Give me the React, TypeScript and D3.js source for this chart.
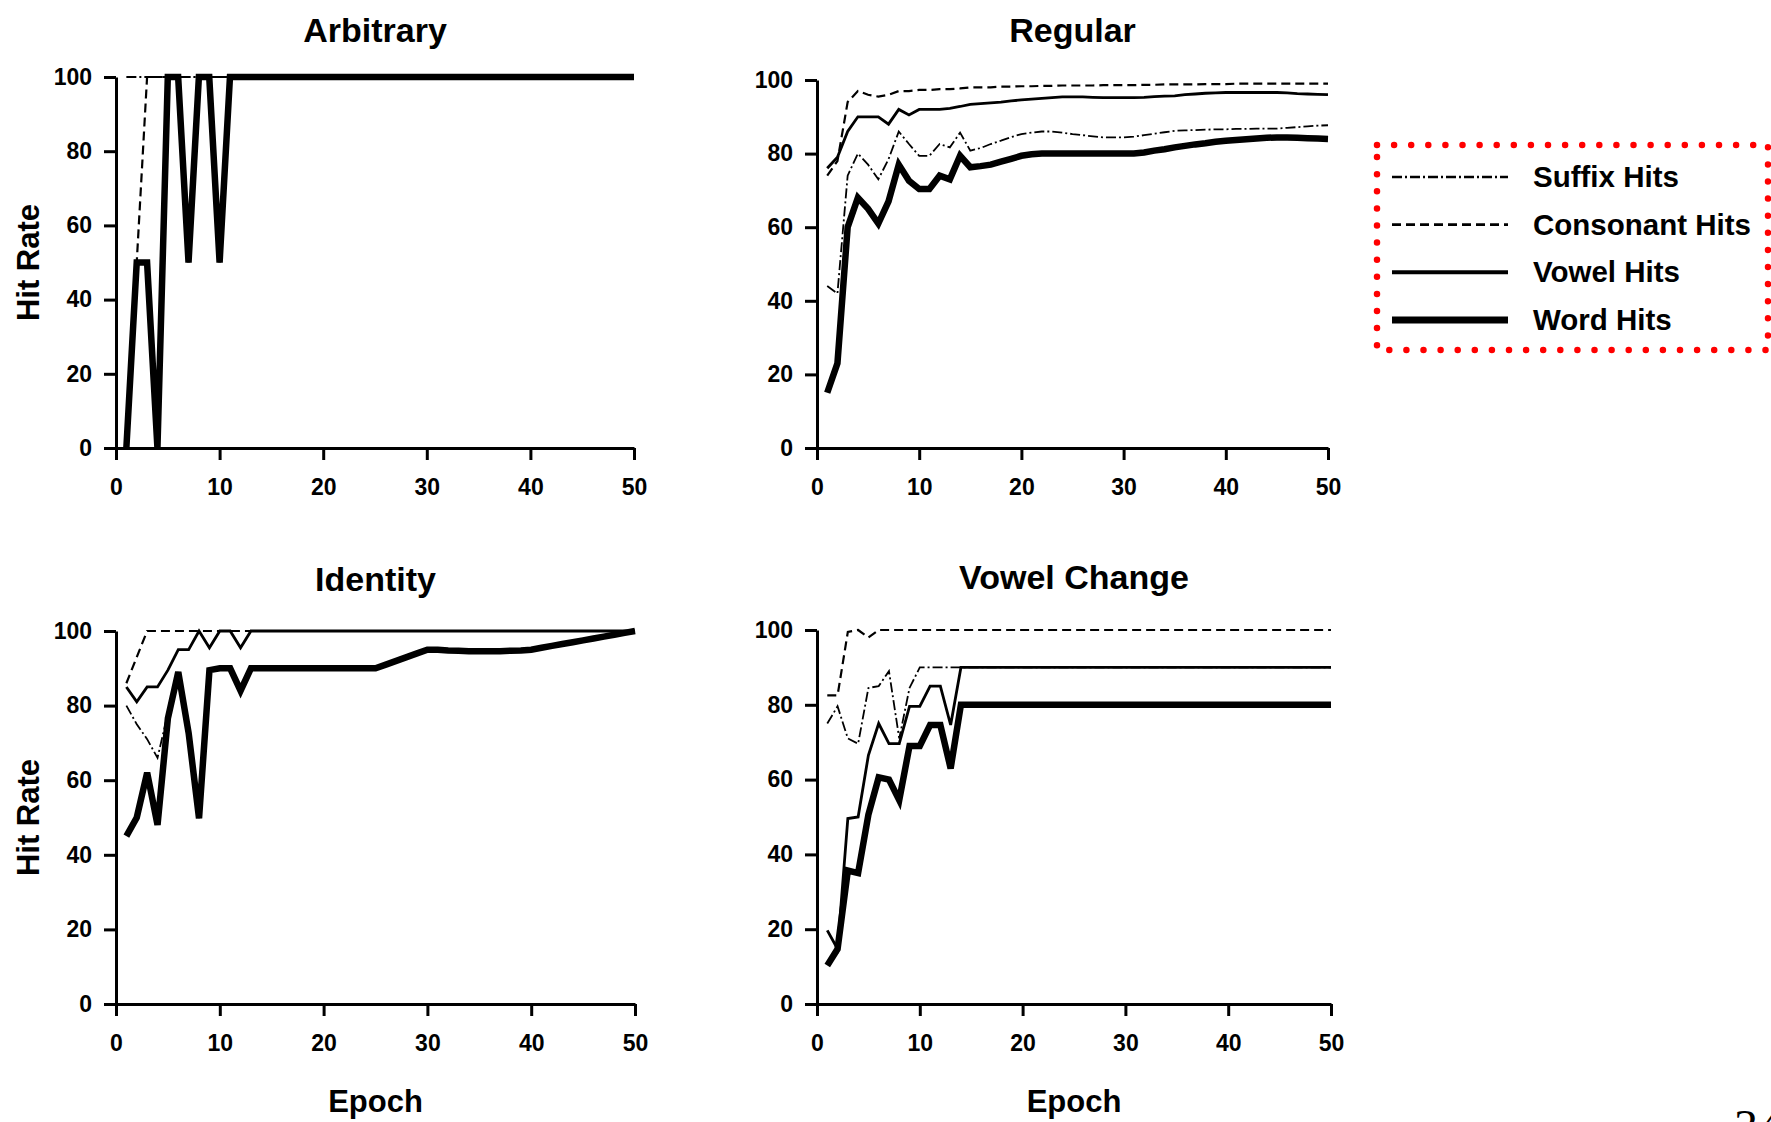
import { useEffect, useRef } from "react";
import * as d3 from "d3";

// epochs 1..50
const epochs = [
    1, 2, 3, 4, 5, 6, 7, 8, 9, 10,
    11, 12, 13, 14, 15, 16, 17, 18, 19, 20,
    21, 22, 23, 24, 25, 26, 27, 28, 29, 30,
    31, 32, 33, 34, 35, 36, 37, 38, 39, 40,
    41, 42, 43, 44, 45, 46, 47, 48, 49, 50,
];

const xTicks = [0, 10, 20, 30, 40, 50];
const yTicks = [0, 20, 40, 60, 80, 100];

const seriesNames = ["Suffix Hits", "Consonant Hits", "Vowel Hits", "Word Hits"];
const panelTitles = ["Arbitrary", "Regular", "Identity", "Vowel Change"];

// Arbitrary
const arbSuffix = [
    100, 100, 100, 100, 100, 100, 100, 100, 100, 100,
    100, 100, 100, 100, 100, 100, 100, 100, 100, 100,
    100, 100, 100, 100, 100, 100, 100, 100, 100, 100,
    100, 100, 100, 100, 100, 100, 100, 100, 100, 100,
    100, 100, 100, 100, 100, 100, 100, 100, 100, 100,
];
const arbConsonant = [
    0, 50, 100, 100, 100, 100, 100, 100, 100, 100,
    100, 100, 100, 100, 100, 100, 100, 100, 100, 100,
    100, 100, 100, 100, 100, 100, 100, 100, 100, 100,
    100, 100, 100, 100, 100, 100, 100, 100, 100, 100,
    100, 100, 100, 100, 100, 100, 100, 100, 100, 100,
];
const arbVowel = [
    0, 50, 50, 0, 100, 100, 50, 100, 100, 50,
    100, 100, 100, 100, 100, 100, 100, 100, 100, 100,
    100, 100, 100, 100, 100, 100, 100, 100, 100, 100,
    100, 100, 100, 100, 100, 100, 100, 100, 100, 100,
    100, 100, 100, 100, 100, 100, 100, 100, 100, 100,
];
const arbWord = [
    0, 50, 50, 0, 100, 100, 50, 100, 100, 50,
    100, 100, 100, 100, 100, 100, 100, 100, 100, 100,
    100, 100, 100, 100, 100, 100, 100, 100, 100, 100,
    100, 100, 100, 100, 100, 100, 100, 100, 100, 100,
    100, 100, 100, 100, 100, 100, 100, 100, 100, 100,
];

// Regular
const regSuffix = [
    44, 42, 74, 80, 77, 73, 78.5, 86, 82.6, 79.4,
    79.4, 82.6, 81.7, 85.7, 80.8, 81.5, 82.6, 83.5, 84.5, 85.3,
    85.7, 86, 86, 85.7, 85.3, 85, 84.7, 84.4, 84.4, 84.4,
    84.6, 85, 85.4, 85.8, 86.2, 86.3, 86.4, 86.5, 86.6, 86.6,
    86.7, 86.7, 86.8, 86.8, 86.8, 87, 87.2, 87.4, 87.6, 87.7,
];
const regConsonant = [
    74, 78, 94, 97, 96, 95.5, 96, 97, 97, 97.3,
    97.3, 97.5, 97.5, 97.7, 98, 98, 98, 98.2, 98.2, 98.3,
    98.3, 98.4, 98.4, 98.5, 98.5, 98.5, 98.5, 98.6, 98.6, 98.6,
    98.6, 98.7, 98.7, 98.8, 98.8, 98.8, 98.8, 98.9, 98.9, 98.9,
    99, 99, 99, 99, 99, 99, 99, 99, 99, 99,
];
const regVowel = [
    76, 79, 86, 90, 90, 90, 88, 92, 90.5, 92,
    92, 92, 92.3, 92.8, 93.4, 93.6, 93.8, 94, 94.3, 94.6,
    94.8, 95, 95.2, 95.4, 95.4, 95.4, 95.3, 95.2, 95.2, 95.2,
    95.2, 95.3, 95.5, 95.6, 95.7, 96, 96.2, 96.4, 96.5, 96.6,
    96.6, 96.6, 96.6, 96.6, 96.6, 96.5, 96.3, 96.2, 96.1, 96,
];
const regWord = [
    15, 23, 60, 68, 65, 61, 67, 77, 72.6, 70.4,
    70.4, 74, 73, 79.4, 76.3, 76.6, 77, 77.8, 78.6, 79.4,
    79.8, 80, 80, 80, 80, 80, 80, 80, 80, 80,
    80, 80.3, 80.8, 81.2, 81.7, 82.1, 82.5, 82.8, 83.2, 83.5,
    83.7, 83.9, 84.1, 84.3, 84.4, 84.4, 84.3, 84.2, 84.1, 84,
];

// Identity
const idSuffix = [
    80, 75, 71, 66, 78, 89, 72.6, 49.8, 89.5, 90,
    90, 84, 90, 90, 90, 90, 90, 90, 90, 90,
    90, 90, 90, 90, 90, 91, 92, 93, 94, 95,
    95, 94.8, 94.7, 94.6, 94.6, 94.6, 94.6, 94.7, 94.8, 95,
    95.5, 96, 96.5, 97, 97.5, 98, 98.5, 99, 99.5, 100,
];
const idConsonant = [
    86, 93, 100, 100, 100, 100, 100, 100, 100, 100,
    100, 100, 100, 100, 100, 100, 100, 100, 100, 100,
    100, 100, 100, 100, 100, 100, 100, 100, 100, 100,
    100, 100, 100, 100, 100, 100, 100, 100, 100, 100,
    100, 100, 100, 100, 100, 100, 100, 100, 100, 100,
];
const idVowel = [
    85, 81, 85, 85, 89.5, 95, 95, 100, 95.5, 100,
    100, 95.5, 100, 100, 100, 100, 100, 100, 100, 100,
    100, 100, 100, 100, 100, 100, 100, 100, 100, 100,
    100, 100, 100, 100, 100, 100, 100, 100, 100, 100,
    100, 100, 100, 100, 100, 100, 100, 100, 100, 100,
];
const idWord = [
    45, 50, 62, 48, 76.6, 89, 72.6, 49.8, 89.5, 90,
    90, 84, 90, 90, 90, 90, 90, 90, 90, 90,
    90, 90, 90, 90, 90, 91, 92, 93, 94, 95,
    95, 94.8, 94.7, 94.6, 94.6, 94.6, 94.6, 94.7, 94.8, 95,
    95.5, 96, 96.5, 97, 97.5, 98, 98.5, 99, 99.5, 100,
];

// Vowel Change
const vcSuffix = [
    75, 79.6, 71, 69.6, 84.5, 85, 89, 71, 84.5, 90,
    90, 90, 90, 90, 90, 90, 90, 90, 90, 90,
    90, 90, 90, 90, 90, 90, 90, 90, 90, 90,
    90, 90, 90, 90, 90, 90, 90, 90, 90, 90,
    90, 90, 90, 90, 90, 90, 90, 90, 90, 90,
];
const vcConsonant = [
    82.5, 82.5, 99.5, 100, 98, 100, 100, 100, 100, 100,
    100, 100, 100, 100, 100, 100, 100, 100, 100, 100,
    100, 100, 100, 100, 100, 100, 100, 100, 100, 100,
    100, 100, 100, 100, 100, 100, 100, 100, 100, 100,
    100, 100, 100, 100, 100, 100, 100, 100, 100, 100,
];
const vcVowel = [
    19.7, 14.7, 49.6, 50, 66.5, 75, 69.6, 69.6, 79.6, 79.6,
    85, 85, 74.6, 90, 90, 90, 90, 90, 90, 90,
    90, 90, 90, 90, 90, 90, 90, 90, 90, 90,
    90, 90, 90, 90, 90, 90, 90, 90, 90, 90,
    90, 90, 90, 90, 90, 90, 90, 90, 90, 90,
];
const vcWord = [
    10.3, 14.7, 35.7, 35, 50.6, 60.6, 60, 54.5, 69, 69,
    74.6, 74.6, 63, 80, 80, 80, 80, 80, 80, 80,
    80, 80, 80, 80, 80, 80, 80, 80, 80, 80,
    80, 80, 80, 80, 80, 80, 80, 80, 80, 80,
    80, 80, 80, 80, 80, 80, 80, 80, 80, 80,
];

const panelSeries = [
    [arbSuffix, arbConsonant, arbVowel, arbWord],
    [regSuffix, regConsonant, regVowel, regWord],
    [idSuffix, idConsonant, idVowel, idWord],
    [vcSuffix, vcConsonant, vcVowel, vcWord],
];

// plot boxes (left, right, top, bottom) in px
const boxes = [
    { l: 116, r: 634, t: 77, b: 448, titleY: 42, yLabel: true, xLabel: false },
    { l: 817, r: 1328, t: 80, b: 448, titleY: 42, yLabel: false, xLabel: false },
    { l: 116, r: 635, t: 631, b: 1004, titleY: 591, yLabel: true, xLabel: true },
    { l: 817, r: 1331, t: 630, b: 1004, titleY: 589, yLabel: false, xLabel: true },
];

const lineStyles = [
    { width: 1.8, dash: "10,3,2,3" },
    { width: 2.2, dash: "9,5" },
    { width: 2.8, dash: null },
    { width: 6.5, dash: null },
];

const FONT = "'Liberation Sans', Arial, Helvetica, sans-serif";

function App() {
    const svgRef = useRef<SVGSVGElement>(null);

    useEffect(() => {
        const svgEl = svgRef.current;
        if (!svgEl) return;
        const svg = d3.select(svgEl);
        svg.selectAll("*").remove();

        svg.append("rect")
            .attr("width", 1771)
            .attr("height", 1122)
            .attr("fill", "#ffffff");

        boxes.forEach((box, pi) => {
            const x = d3.scaleLinear().domain([0, 50]).range([box.l, box.r]);
            const y = d3.scaleLinear().domain([0, 100]).range([box.b, box.t]);
            const g = svg.append("g");

            // title
            g.append("text")
                .attr("x", (box.l + box.r) / 2)
                .attr("y", box.titleY)
                .attr("text-anchor", "middle")
                .attr("font-family", FONT)
                .attr("font-weight", "bold")
                .attr("font-size", "34px")
                .attr("fill", "#000")
                .text(panelTitles[pi]);

            // axes
            const yAxis = g.append("g")
                .attr("transform", `translate(${box.l},0)`)
                .call(d3.axisLeft(y).tickValues(yTicks).tickSize(12).tickSizeOuter(0).tickPadding(12));
            const xAxis = g.append("g")
                .attr("transform", `translate(0,${box.b})`)
                .call(d3.axisBottom(x).tickValues(xTicks).tickSize(12).tickSizeOuter(0).tickPadding(19));

            [yAxis, xAxis].forEach(ax => {
                ax.attr("font-family", FONT).attr("font-size", 23).attr("font-weight", "bold");
                ax.select(".domain").attr("stroke", "#000").attr("stroke-width", 3);
                ax.selectAll(".tick line").attr("stroke", "#000").attr("stroke-width", 3);
                ax.selectAll(".tick text").attr("fill", "#000");
            });

            if (box.yLabel) {
                g.append("text")
                    .attr("transform", `translate(28,${(box.t + box.b) / 2}) rotate(-90)`)
                    .attr("text-anchor", "middle")
                    .attr("dominant-baseline", "central")
                    .attr("font-family", FONT)
                    .attr("font-weight", "bold")
                    .attr("font-size", "31px")
                    .attr("fill", "#000")
                    .text("Hit Rate");
            }
            if (box.xLabel) {
                g.append("text")
                    .attr("x", (box.l + box.r) / 2)
                    .attr("y", 1112)
                    .attr("text-anchor", "middle")
                    .attr("font-family", FONT)
                    .attr("font-weight", "bold")
                    .attr("font-size", "31px")
                    .attr("fill", "#000")
                    .text("Epoch");
            }

            const line = d3.line<number>()
                .x((_, i) => x(epochs[i]))
                .y(d => y(d));

            // word hits first (thick), thin lines on top
            [3, 2, 1, 0].forEach(si => {
                const st = lineStyles[si];
                g.append("path")
                    .datum(panelSeries[pi][si])
                    .attr("d", line)
                    .attr("fill", "none")
                    .attr("stroke", "#000")
                    .attr("stroke-width", st.width)
                    .attr("stroke-linejoin", "miter")
                    .attr("stroke-dasharray", st.dash)
                    .attr("class", "series");
            });
        });

        // legend
        const leg = svg.append("g");
        leg.append("rect")
            .attr("x", 1377)
            .attr("y", 145)
            .attr("width", 391)
            .attr("height", 205)
            .attr("fill", "none")
            .attr("stroke", "#ff0000")
            .attr("stroke-width", 6.5)
            .attr("stroke-linecap", "round")
            .attr("stroke-dasharray", "0,17.1");

        const rowY = d3.scalePoint<string>().domain(seriesNames).range([177, 320]);
        seriesNames.forEach((name, si) => {
            const st = lineStyles[si];
            const cy = rowY(name) ?? 0;
            leg.append("line")
                .attr("x1", 1392)
                .attr("x2", 1508)
                .attr("y1", cy)
                .attr("y2", cy)
                .attr("stroke", "#000")
                .attr("stroke-width", si === 3 ? 7 : si === 2 ? 4 : st.width + 0.5)
                .attr("stroke-dasharray", st.dash);
            leg.append("text")
                .attr("x", 1533)
                .attr("y", cy + 10)
                .attr("font-family", FONT)
                .attr("font-weight", "bold")
                .attr("font-size", "29.5px")
                .attr("fill", "#000")
                .text(name);
        });

        // page number, cut off at the bottom edge
        svg.append("text")
            .attr("x", 1734)
            .attr("y", 1143)
            .attr("font-family", "'Liberation Serif', 'Times New Roman', serif")
            .attr("font-size", "48px")
            .attr("fill", "#000")
            .text("34");
    }, []);

    return (
        <svg
            ref={svgRef}
            width={1771}
            height={1122}
            style={{ position: "absolute", left: 0, top: 0, display: "block" }}
        />
    );
}

export default App;
